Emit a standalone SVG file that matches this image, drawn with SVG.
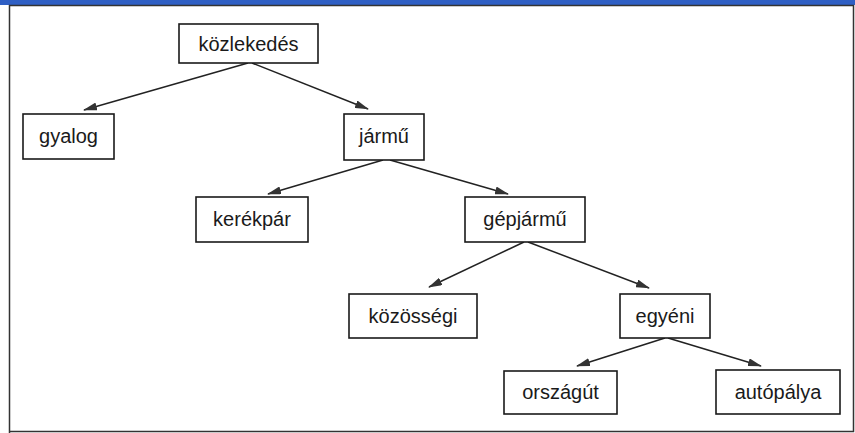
<svg xmlns="http://www.w3.org/2000/svg" width="855" height="433" viewBox="0 0 855 433">
<defs>
<style>
.box{fill:#fff;stroke:#1a1a1a;stroke-width:1.6}
.lbl{font-family:"Liberation Sans",Arial,sans-serif;font-size:20px;fill:#1a1a1a;text-anchor:middle}
.conn line{stroke:#222;stroke-width:1.5}
</style>
<marker id="ah" markerWidth="14" markerHeight="8" refX="13" refY="4" orient="auto" markerUnits="userSpaceOnUse">
<path d="M0,0 L14,4 L0,8 z" fill="#333"/>
</marker>
</defs>
<rect x="0" y="0" width="855" height="433" fill="#fff"/>
<rect x="0" y="0" width="855" height="5" fill="#2f5fc4"/>
<path d="M9.5,433 V5.5 H853.5 V431.5 H9.5" fill="none" stroke="#333" stroke-width="1.5"/>
<g class="conn">
<line x1="248" y1="63" x2="84" y2="110" marker-end="url(#ah)"/>
<line x1="252" y1="63" x2="368" y2="109" marker-end="url(#ah)"/>
<line x1="383" y1="160" x2="268" y2="194" marker-end="url(#ah)"/>
<line x1="390" y1="160" x2="508" y2="194" marker-end="url(#ah)"/>
<line x1="524" y1="242" x2="429" y2="287" marker-end="url(#ah)"/>
<line x1="528" y1="242" x2="649" y2="288" marker-end="url(#ah)"/>
<line x1="665" y1="338" x2="577" y2="366" marker-end="url(#ah)"/>
<line x1="668" y1="338" x2="761" y2="366" marker-end="url(#ah)"/>
</g>
<g id="kozlekedes"><rect class="box" x="179" y="24" width="139" height="39"/><text class="lbl" x="248.5" y="51">közlekedés</text></g>
<g id="gyalog"><rect class="box" x="23" y="114" width="91" height="45"/><text class="lbl" x="68.5" y="143">gyalog</text></g>
<g id="jarmu"><rect class="box" x="344" y="114" width="80" height="46"/><text class="lbl" x="384" y="143">jármű</text></g>
<g id="kerekpar"><rect class="box" x="196" y="197" width="112" height="45"/><text class="lbl" x="252" y="226">kerékpár</text></g>
<g id="gepjarmu"><rect class="box" x="465" y="197" width="120" height="45"/><text class="lbl" x="525" y="226">gépjármű</text></g>
<g id="kozossegi"><rect class="box" x="349" y="294" width="128" height="44"/><text class="lbl" x="413" y="323">közösségi</text></g>
<g id="egyeni"><rect class="box" x="620" y="294" width="90" height="44"/><text class="lbl" x="665" y="323">egyéni</text></g>
<g id="orszagut"><rect class="box" x="504" y="371" width="113" height="43"/><text class="lbl" x="560.5" y="399">országút</text></g>
<g id="autopalya"><rect class="box" x="716" y="370" width="124" height="44"/><text class="lbl" x="778" y="399">autópálya</text></g>
</svg>
